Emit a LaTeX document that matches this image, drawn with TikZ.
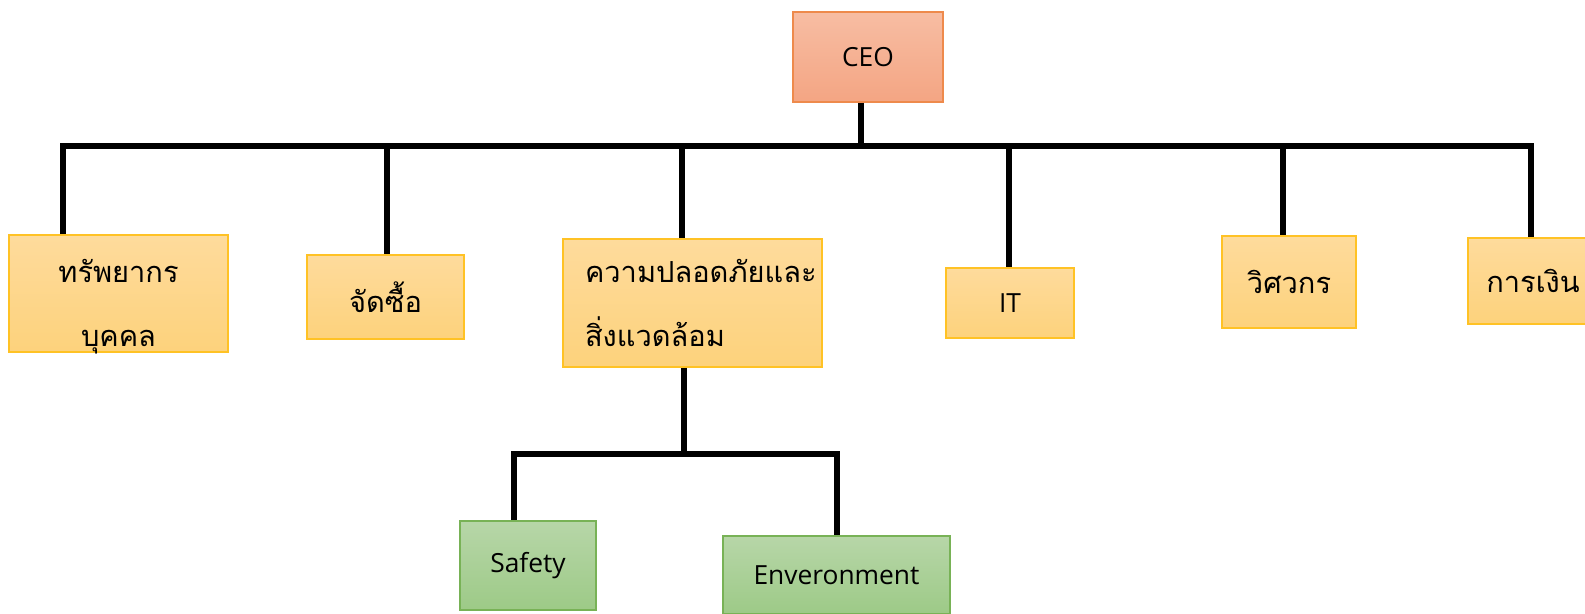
\documentclass[tikz,border=0pt]{standalone}
\usepackage{fontspec}
\setmainfont{Open Sans}
\newfontfamily\thaifont[Script=Thai]{Loma}
\definecolor{ceoOben}{HTML}{F7BDA3}
\definecolor{ceoUnten}{HTML}{F4A583}
\definecolor{ceoRand}{HTML}{EE8A4C}
\definecolor{gelbOben}{HTML}{FEDB9C}
\definecolor{gelbUnten}{HTML}{FDD27C}
\definecolor{gelbRand}{HTML}{FFC225}
\definecolor{gruenOben}{HTML}{B7D6A8}
\definecolor{gruenUnten}{HTML}{9DCA87}
\definecolor{gruenRand}{HTML}{78B256}
\tikzset{
	chef/.style={
		rectangle,
		top color=ceoOben,
		bottom color=ceoUnten,
		draw=ceoRand, line width=0.9pt,
		minimum width=3cm,
		minimum height=1.8cm,
		font=\fontsize{15}{18}\selectfont,
		text centered},
	abteilung/.style={
		rectangle,
		top color=gelbOben,
		bottom color=gelbUnten,
		draw=gelbRand, line width=0.9pt,
		font=\thaifont\fontsize{16.5}{36}\selectfont,
		align=center},
	gruppe/.style={
		rectangle,
		top color=gruenOben,
		bottom color=gruenUnten,
		draw=gruenRand, line width=0.9pt,
		font=\fontsize{15}{18}\selectfont,
		text centered},
	linie/.style={draw, line width=3.3pt},
}
\begin{document}
\begin{tikzpicture}
			[x=0.02cm, y=-0.02cm]
			\useasboundingbox (0,0) rectangle (1585,614);
			\node[chef] (ceo) at (868,57) {CEO};
			\node[abteilung, minimum width=4.38cm, minimum height=2.34cm, inner ysep=0pt] (eins) at (118.5,293.5) {\rule{0pt}{24pt}ทรัพยากร\\\smash{บุคคล}};
			\node[abteilung, minimum width=3.14cm, minimum height=1.68cm] (zwei) at (385.5,297) {จัดซื้อ};
			\node[abteilung, minimum width=5.18cm, minimum height=2.56cm, text width=4.3cm, inner xsep=0pt, align=left] (drei) at (692.5,303) {ความปลอดภัยและ\\สิ่งแวดล้อม};
			\node[abteilung, minimum width=2.56cm, minimum height=1.4cm, font=\fontsize{15}{18}\selectfont] (vier) at (1010,303) {IT};
			\node[abteilung, minimum width=2.68cm, minimum height=1.84cm] (fuenf) at (1289,282) {วิศวกร};
			\node[abteilung, minimum width=2.6cm, minimum height=1.72cm] (sechs) at (1533,281) {การเงิน};
			\node[gruppe, minimum width=2.72cm, minimum height=1.78cm] (sieben) at (528,565.5) {Safety};
			\node[gruppe, minimum width=4.54cm, minimum height=1.56cm] (acht) at (836.5,575) {Enveronment};
			
			% Hauptlinie
			\coordinate (mitte) at (861,146);
			\coordinate (links) at (63,146);
			\coordinate (b2) at (387,146);
			\coordinate (b3) at (682,146);
			\coordinate (b4) at (1009,146);
			\coordinate (b5) at (1283,146);
			\coordinate (rechts) at (1531,146);
			\path[linie] (mitte |- ceo.south) -- (mitte);
			\path[linie] (links |- eins.north) -- (links) -- (rechts) -- (rechts |- sechs.north);
			\path[linie] (b2) -- (b2 |- zwei.north);
			\path[linie] (b3) -- (b3 |- drei.north);
			\path[linie] (b4) -- (b4 |- vier.north);
			\path[linie] (b5) -- (b5 |- fuenf.north);
			
			% Unterlinie
			\coordinate (unten) at (684,454);
			\coordinate (ul) at (514,454);
			\coordinate (ur) at (837,454);
			\path[linie] (unten |- drei.south) -- (unten);
			\path[linie] (ul |- sieben.north) -- (ul) -- (ur) -- (ur |- acht.north);
\end{tikzpicture}
\end{document}
